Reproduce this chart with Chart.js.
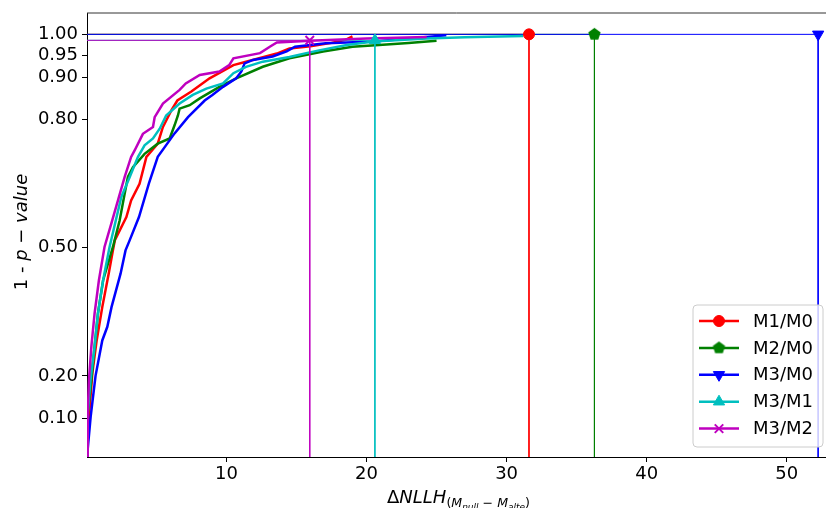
<!DOCTYPE html>
<html>
<head>
<meta charset="utf-8">
<script src="https://cdn.jsdelivr.net/npm/chart.js@4/dist/chart.umd.min.js"></script>
<style>
  body { margin: 0; background: #fff; overflow: hidden; }
  #wrap { width: 826px; height: 508px; }
</style>
</head>
<body>
<div id="wrap"><canvas id="myChart" width="826" height="508"></canvas></div>
<script>
// tick positions
const xTicks = [10, 20, 30, 40, 50];
const yTicks = [0.10, 0.20, 0.50, 0.80, 0.90, 0.95, 1.00];

const labels = ['M1/M0', 'M2/M0', 'M3/M0', 'M3/M1', 'M3/M2'];
const colors = ['#ff0000', '#008000', '#0000ff', '#00bfbf', '#bf00bf'];

// null distributions (delta NLLH vs 1 - p)
const m1m0X = [0.05, 0.19, 0.43, 0.74, 1.14, 1.6, 1.9, 2.04, 2.86, 3.2, 3.8, 4.29, 5.1, 5.47, 6.07, 6.5, 7.5, 8.8, 10.5, 11.4, 13.6, 14.5, 16.0, 17.5, 18.5, 19.0];
const m1m0Y = [0.01, 0.104, 0.206, 0.283, 0.361, 0.44, 0.494, 0.518, 0.572, 0.611, 0.65, 0.713, 0.744, 0.783, 0.822, 0.845, 0.866, 0.897, 0.928, 0.936, 0.955, 0.967, 0.972, 0.98, 0.987, 0.995];

const m2m0X = [0.05, 0.1, 0.36, 0.59, 0.83, 1.2, 1.9, 2.38, 2.74, 2.97, 3.33, 4.16, 5.1, 5.95, 6.3, 6.54, 6.66, 7.38, 8.1, 9.5, 10.7, 12.6, 14.5, 16.9, 19.0, 20.9, 23.0, 25.0];
const m2m0Y = [0.01, 0.111, 0.19, 0.268, 0.346, 0.424, 0.502, 0.564, 0.627, 0.666, 0.689, 0.72, 0.744, 0.756, 0.787, 0.81, 0.826, 0.834, 0.85, 0.877, 0.897, 0.924, 0.944, 0.96, 0.971, 0.975, 0.98, 0.985];

const m3m0X = [0.05, 0.31, 0.66, 1.14, 1.5, 1.8, 2.45, 2.8, 3.1, 3.76, 4.47, 5.1, 6.3, 7.26, 8.45, 9.0, 9.76, 10.7, 11.07, 11.3, 11.9, 13.3, 14.3, 14.9, 17.1, 20.5, 24.3, 25.7];
const m3m0Y = [0.01, 0.104, 0.2, 0.283, 0.315, 0.361, 0.44, 0.494, 0.518, 0.572, 0.651, 0.713, 0.768, 0.806, 0.845, 0.858, 0.877, 0.897, 0.913, 0.932, 0.94, 0.948, 0.96, 0.971, 0.979, 0.983, 0.994, 0.998];

const m3m1X = [0.05, 0.1, 0.3, 0.59, 0.83, 1.2, 1.66, 2.5, 3.1, 3.69, 4.16, 4.76, 5.24, 5.7, 6.66, 7.6, 8.57, 9.76, 10.5, 11.4, 12.6, 14.5, 15.7, 16.7, 18.6, 20.5, 24.3, 27.0, 31.2];
const m3m1Y = [0.01, 0.111, 0.19, 0.268, 0.346, 0.424, 0.502, 0.619, 0.666, 0.713, 0.74, 0.756, 0.779, 0.81, 0.838, 0.858, 0.873, 0.885, 0.909, 0.924, 0.936, 0.947, 0.956, 0.963, 0.975, 0.983, 0.99, 0.993, 0.996];

const m3m2X = [0.05, 0.1, 0.19, 0.36, 0.59, 0.9, 1.3, 1.79, 2.26, 2.74, 3.2, 3.45, 4.04, 4.76, 4.88, 5.47, 6.66, 7.1, 8.1, 9.5, 10.2, 10.5, 12.4, 13.1, 13.6, 15.95, 20.0, 24.3];
const m3m2Y = [0.01, 0.111, 0.19, 0.268, 0.346, 0.424, 0.502, 0.557, 0.611, 0.666, 0.713, 0.728, 0.767, 0.783, 0.806, 0.838, 0.87, 0.885, 0.905, 0.913, 0.928, 0.944, 0.956, 0.971, 0.981, 0.985, 0.99, 0.994];

// observed values
const obsX = [31.6, 36.27, 52.24, 20.6, 15.95];
const obsY = [1.0, 1.0, 1.0, 0.986, 0.986];

const xMin = 0.05, xMax = 52.8;
const yMin = 0.01, yMax = 1.05;

const seriesX = [m1m0X, m2m0X, m3m0X, m3m1X, m3m2X];
const seriesY = [m1m0Y, m2m0Y, m3m0Y, m3m1Y, m3m2Y];

function pentagon(color, r) {
    const c = document.createElement('canvas');
    const s = Math.ceil(r * 2 + 2);
    c.width = s; c.height = s;
    const g = c.getContext('2d');
    g.beginPath();
    for (let k = 0; k < 5; k++) {
        const a = -Math.PI / 2 + k * 2 * Math.PI / 5;
        const px = s / 2 + r * Math.cos(a), py = s / 2 + r * Math.sin(a);
        if (k === 0) g.moveTo(px, py); else g.lineTo(px, py);
    }
    g.closePath();
    g.fillStyle = color;
    g.fill();
    return c;
}

const markers = [
    { pointStyle: 'circle', radius: 5.5, rotation: 0 },
    { pointStyle: pentagon('#008000', 6.5), radius: 6, rotation: 0 },
    { pointStyle: 'triangle', radius: 6.5, rotation: 180 },
    { pointStyle: 'triangle', radius: 6.5, rotation: 0 },
    { pointStyle: 'crossRot', radius: 6, rotation: 0 }
];

const datasets = [];
let order = 100;
for (let i = 0; i < labels.length; i++) {
    const pts = seriesX[i].map((x, j) => ({ x: x, y: seriesY[i][j] }));
    datasets.push({
        label: labels[i], data: pts, borderColor: colors[i], borderWidth: 2.5,
        pointRadius: 0, tension: 0, fill: false, order: order--
    });
    datasets.push({
        label: '', data: [{ x: xMin, y: obsY[i] }, { x: obsX[i], y: obsY[i] }],
        borderColor: colors[i], borderWidth: 1, pointRadius: 0, order: order--
    });
    datasets.push({
        label: '', data: [{ x: obsX[i], y: obsY[i] }, { x: obsX[i], y: yMin }],
        borderColor: colors[i], borderWidth: 1, pointRadius: 0, order: order--
    });
}
for (let i = 0; i < labels.length; i++) {
    datasets.push({
        label: '', data: [{ x: obsX[i], y: obsY[i] }], showLine: false,
        pointStyle: markers[i].pointStyle, pointRadius: markers[i].radius,
        pointRotation: markers[i].rotation,
        pointBackgroundColor: colors[i], pointBorderColor: colors[i],
        pointBorderWidth: i === 4 ? 2 : 1, order: order--
    });
}

const extras = {
    id: 'extras',
    afterDraw(chart) {
        const ctx = chart.ctx;
        const a = chart.chartArea;
        ctx.save();
        // top spine
        ctx.strokeStyle = '#333';
        ctx.lineWidth = 1;
        ctx.beginPath();
        ctx.moveTo(a.left, a.top);
        ctx.lineTo(a.right, a.top);
        ctx.stroke();

        // legend
        const bw = 130, bh = 142;
        const bx = a.right - 3 - bw, by = a.bottom - 10 - bh;
        ctx.beginPath();
        ctx.roundRect(bx, by, bw, bh, 4);
        ctx.fillStyle = 'rgba(255,255,255,0.8)';
        ctx.fill();
        ctx.strokeStyle = '#cccccc';
        ctx.lineWidth = 1;
        ctx.stroke();
        ctx.font = '18px "DejaVu Sans"';
        ctx.textBaseline = 'middle';
        ctx.textAlign = 'left';
        for (let i = 0; i < labels.length; i++) {
            const ry = by + 16 + i * 26.9;
            ctx.strokeStyle = colors[i];
            ctx.lineWidth = 2.5;
            ctx.beginPath();
            ctx.moveTo(bx + 6, ry);
            ctx.lineTo(bx + 46, ry);
            ctx.stroke();
            ctx.fillStyle = colors[i];
            ctx.lineWidth = i === 4 ? 2 : 1;
            Chart.helpers.drawPoint(ctx, {
                pointStyle: markers[i].pointStyle, radius: markers[i].radius,
                rotation: markers[i].rotation, borderWidth: ctx.lineWidth
            }, bx + 26, ry);
            ctx.fillStyle = '#000';
            ctx.fillText(labels[i], bx + 60, ry + 1);
        }

        // x axis title
        const parts = [
            { t: '\u0394', f: '18px "DejaVu Sans"', dy: 0 },
            { t: 'NLLH', f: 'italic 18px "DejaVu Sans"', dy: 0 },
            { t: '(', f: '12.6px "DejaVu Sans"', dy: 4 },
            { t: 'M', f: 'italic 12.6px "DejaVu Sans"', dy: 4 },
            { t: 'null', f: 'italic 9px "DejaVu Sans"', dy: 7 },
            { t: ' \u2212 ', f: '12.6px "DejaVu Sans"', dy: 4 },
            { t: 'M', f: 'italic 12.6px "DejaVu Sans"', dy: 4 },
            { t: 'alte', f: 'italic 9px "DejaVu Sans"', dy: 7 },
            { t: ')', f: '12.6px "DejaVu Sans"', dy: 4 }
        ];
        let total = 0;
        parts.forEach(p => { ctx.font = p.f; p.w = ctx.measureText(p.t).width; total += p.w; });
        let cx = (a.left + a.right) / 2 + 2 - total / 2;
        const base = 503;
        ctx.textBaseline = 'alphabetic';
        ctx.fillStyle = '#000';
        parts.forEach(p => { ctx.font = p.f; ctx.fillText(p.t, cx, base + p.dy); cx += p.w; });

        // y axis title
        const yparts = [
            { t: '1 - ', f: '18px "DejaVu Sans"' },
            { t: 'p', f: 'italic 18px "DejaVu Sans"' },
            { t: ' \u2212 ', f: '18px "DejaVu Sans"' },
            { t: 'value', f: 'italic 18px "DejaVu Sans"' }
        ];
        let yt = 0;
        yparts.forEach(p => { ctx.font = p.f; p.w = ctx.measureText(p.t).width; yt += p.w; });
        ctx.translate(27, 232);
        ctx.rotate(-Math.PI / 2);
        let ux = -yt / 2;
        yparts.forEach(p => { ctx.font = p.f; ctx.fillText(p.t, ux, 0); ux += p.w; });
        ctx.restore();
    }
};

Chart.defaults.font.family = 'DejaVu Sans';
Chart.defaults.font.size = 18;
Chart.defaults.color = '#000';

new Chart(document.getElementById('myChart'), {
    type: 'line',
    data: { datasets: datasets },
    options: {
        responsive: false,
        animation: false,
        devicePixelRatio: 1,
        layout: { autoPadding: false, padding: { top: 13, right: 0, bottom: 0, left: 0 } },
        plugins: { legend: { display: false }, tooltip: { enabled: false } },
        scales: {
            x: {
                type: 'linear', min: xMin, max: xMax,
                afterBuildTicks: s => { s.ticks = xTicks.map(v => ({ value: v })); },
                afterFit: s => { s.height = 51; s.paddingLeft = 0; s.paddingRight = 0; },
                ticks: { autoSkip: false, maxRotation: 0, padding: 2, color: '#000' },
                grid: { drawOnChartArea: false, tickLength: 5, color: '#000' },
                border: { display: true, color: '#000', width: 1 }
            },
            y: {
                type: 'linear', min: yMin, max: yMax,
                afterBuildTicks: s => { s.ticks = yTicks.map(v => ({ value: v })); },
                afterFit: s => { s.width = 87; s.paddingTop = 0; s.paddingBottom = 0; },
                ticks: { autoSkip: false, padding: 4, color: '#000', callback: v => v.toFixed(2) },
                grid: { drawOnChartArea: false, tickLength: 5, color: '#000' },
                border: { display: true, color: '#000', width: 1 }
            }
        }
    },
    plugins: [extras]
});
</script>
</body>
</html>
